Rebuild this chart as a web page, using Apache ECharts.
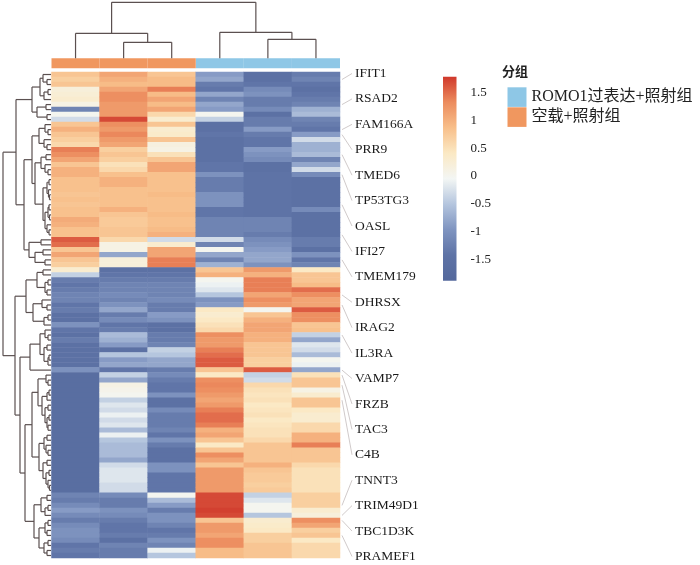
<!DOCTYPE html>
<html><head><meta charset="utf-8">
<script src="https://cdn.jsdelivr.net/npm/echarts@6/dist/echarts.min.js"></script>
<style>html,body{margin:0;padding:0;background:#fff}#c{width:700px;height:565px}</style>
</head><body><div id="c"></div>
<script>
// ---- data ----
const sampleNames = ['S1','S2','S3','S4','S5','S6'];
const sampleGroups = ['空载+照射组','空载+照射组','空载+照射组','ROMO1过表达+照射组','ROMO1过表达+照射组','ROMO1过表达+照射组'];
const groupNames = ['ROMO1过表达+照射组','空载+照射组'];
const groupColors = ['#8EC7E6','#F0975F'];

const empty1 = [0.8,0.7,0.8,0.2,0.25,0.3,0.1,-1.2,0.0,-0.3,
  0.8,1.0,0.8,0.7,0.6,1.4,1.3,1.1,0.8,1.0,
  1.0,0.85,0.85,0.85,0.8,0.85,0.8,0.85,0.85,1.05,
  1.0,0.85,0.85,1.6,1.5,0.8,1.1,0.8,0.7,
  0.3,-0.4,-1.3,-1.4,-1.3,-1.2,-1.2,-1.4,-1.3,-1.5,-1.5,
  -1.0,-1.4,-1.5,-1.3,-1.5,-1.5,-1.5,-1.5,-1.5,-1.0,
  -1.65,-1.65,-1.65,-1.65,-1.65,-1.65,-1.65,-1.65,-1.65,-1.65,-1.65,-1.65,
  -1.65,-1.65,-1.65,-1.65,-1.65,-1.65,-1.65,-1.65,-1.65,-1.65,-1.65,-1.65,
  -1.2,-1.3,-1.1,-0.9,-1.1,-1.3,-1.1,-1.0,-1.0,-1.1,-1.4,-1.3,-1.4];
const empty2 = [1.1,1.0,0.9,1.1,1.3,1.3,1.2,1.2,1.2,1.7,
  1.3,1.2,1.35,1.2,1.1,0.7,0.8,0.7,0.5,0.6,
  0.85,1.0,1.0,0.85,0.85,0.85,0.85,1.0,0.8,0.75,
  0.75,0.8,0.8,0.6,0.1,0.1,-0.8,0.2,0.2,
  -1.5,-1.4,-1.3,-1.2,-1.2,-1.1,-1.2,-1.0,-0.8,-1.3,-1.1,
  -1.4,-1.3,-0.6,-0.7,-0.9,-1.5,-0.5,-0.9,-0.8,-1.4,
  -0.4,-0.8,0.1,0.05,0.0,-0.4,-0.2,-0.3,-0.1,-0.3,-0.2,-0.6,
  -0.1,-0.5,-0.6,-0.6,-0.6,-0.8,-0.3,-0.2,-0.2,-0.2,-0.3,-0.3,
  -1.1,-1.3,-1.3,-1.0,-1.1,-1.3,-1.4,-1.4,-1.3,-1.5,-1.2,-1.3,-1.3];
const empty3 = [0.8,0.9,0.9,1.4,0.9,1.1,0.9,1.1,0.6,0.3,
  0.8,0.3,0.35,0.8,0.15,0.1,0.5,0.8,1.1,1.1,
  0.85,0.85,0.85,0.85,0.9,0.85,0.85,0.85,0.9,0.85,
  0.85,0.9,1.0,-0.3,0.3,1.1,1.1,1.4,1.4,
  -1.5,-1.4,-1.3,-1.2,-1.2,-1.2,-1.1,-1.3,-1.3,-0.9,-1.0,
  -1.5,-1.5,-1.3,-1.3,-1.2,-0.4,-0.5,-0.8,-0.8,-1.3,
  -1.1,-1.3,-1.4,-1.4,-1.0,-1.5,-1.5,-1.1,-1.3,-1.3,-1.3,-1.2,
  -1.4,-1.0,-1.3,-1.5,-1.5,-1.5,-1.0,-1.0,-1.4,-1.4,-1.4,-1.4,
  0.0,-0.6,-0.9,-1.3,-1.0,-1.0,-1.2,-1.4,-1.3,-1.0,-1.2,-0.1,-0.5];
const romo1 = [-0.9,-0.8,-1.3,-1.4,-0.8,-1.2,-0.8,-0.9,0.0,-0.4,
  -1.5,-1.5,-1.4,-1.5,-1.5,-1.5,-1.5,-1.5,-1.4,-1.4,
  -1.0,-1.3,-1.3,-1.3,-1.0,-1.0,-1.0,-1.4,-1.4,-1.2,
  -1.2,-1.2,-1.2,-0.3,-1.2,0.0,-0.8,-1.2,-0.7,
  0.8,1.0,0.0,-0.1,-0.2,-0.5,-1.0,-0.9,0.4,0.3,0.4,
  0.5,0.6,1.3,1.2,1.2,1.4,1.5,1.6,1.6,0.8,
  0.4,1.3,1.35,1.3,1.2,1.1,1.2,1.4,1.5,1.5,1.4,1.0,
  1.1,0.8,0.4,0.8,1.3,1.1,0.8,1.2,1.2,1.2,1.2,1.2,
  1.7,1.7,1.7,1.75,1.7,0.8,1.2,1.2,1.1,1.3,1.3,0.9,0.9];
const romo2 = [-1.5,-1.5,-1.4,-1.1,-1.0,-1.3,-1.3,-1.1,-1.5,-1.3,
  -1.3,-0.9,-1.3,-1.4,-1.4,-0.9,-1.0,-1.1,-1.5,-1.5,
  -1.45,-1.45,-1.45,-1.45,-1.45,-1.45,-1.45,-1.45,-1.45,-1.2,
  -1.2,-1.2,-1.3,-1.1,-1.0,-0.9,-0.8,-0.8,-1.0,
  1.2,1.0,1.4,1.4,1.4,1.1,1.3,1.2,0.0,0.8,1.0,
  1.1,1.1,1.0,1.0,0.8,0.8,0.8,0.7,0.7,1.6,
  -0.4,-0.3,0.6,0.5,0.45,0.5,0.4,0.45,0.5,0.4,0.45,0.5,
  0.5,0.6,0.8,0.8,0.8,0.8,1.0,0.8,0.75,0.75,0.7,0.75,
  -0.4,-0.2,0.0,0.0,-0.5,0.3,0.35,0.4,0.7,0.7,0.8,0.8,0.8];
const romo3 = [-1.3,-1.2,-1.4,-1.5,-1.4,-1.3,-1.2,-0.7,-0.6,-1.2,
  -1.3,-1.4,-0.9,-0.3,-0.7,-0.7,-0.6,-1.2,-0.8,-0.3,
  -1.1,-1.5,-1.5,-1.5,-1.5,-1.5,-1.5,-1.1,-1.5,-1.5,
  -1.5,-1.5,-1.5,-1.3,-1.3,-1.5,-1.0,-1.4,-1.2,
  0.4,0.8,0.8,0.9,1.5,1.3,1.1,1.1,1.6,1.3,1.3,
  0.8,0.85,-0.4,-0.8,-0.2,-0.3,-0.6,0.0,-0.1,-0.8,
  0.5,0.8,0.8,0.1,0.3,0.8,0.8,0.4,0.3,0.3,0.6,0.6,
  1.0,1.0,1.4,0.8,0.8,0.8,0.6,0.5,0.5,0.5,0.5,0.5,
  0.7,0.7,0.7,0.3,0.2,1.3,1.1,0.7,0.8,0.4,0.6,0.6,0.6];

const labelRows  = [1,6,11,12,16,20,26,32,37,44,46,52,59,60,62,65,86,88,89,92];
const labelNames = ['IFIT1','RSAD2','FAM166A','PRR9','TMED6','TP53TG3','OASL','IFI27','TMEM179','DHRSX',
  'IRAG2','IL3RA','VAMP7','FRZB','TAC3','C4B','TNNT3','TRIM49D1','TBC1D3K','PRAMEF1'];

// dendrograms: [height, left, right], leaves = index
const colTree = [56, [25, 0, [16, 1, 2]], [26, 3, [19, 4, 5]]];
const rowTree = [48,
  [35,
    [19, [11, [8, 0, [4,1,2]], [7, [3,3,4], 5]], [14, [5,6,7], [4,8,9]]],
    [27,
      [19,
        [12, [6, 10, [3,11,12]], [7, 13, [4,14,15]]],
        [16, [10, [5,16,17], [6,18,[3,19,20]]],
             [8, [4, [2,21,22], [2.5,23,[1.5,24,25]]], [6, [3,[2,26,27],[1.5,28,29]], [4,30,[2,31,32]]]]]
      ],
      [22, [10,33,34], [16,[8,35,36],[6,37,38]]]
    ]
  ],
  [36,
    [25, [14, [8,39,40], [6,[3,41,42],[4,43,44]]], [18, [9,45,[4,46,47]], [7,[3,48,49],50]]],
    [31,
      [21, [11, [6,51,[3,52,53]], [7,[4,54,55],[3,[2,56,57],58]]], 59],
      [26,
        [19,
          [13, [5,60,[3,61,62]], [9,[4,[2,63,64],65],[6,[3,66,67],[4,[2,68,69],[3,70,71]]]]],
          [12, [7,[4,72,73],[5,74,[3,75,76]]], [8,[4,77,78],[5,[2,79,80],[3,81,[1.5,82,83]]]]]
        ],
        [17, [10,[4,84,85],[6,[3,86,87],88]], [12,[6,[3,89,90],[4,91,92]],[7,[3,93,94],[4,95,96]]]]
      ]
    ]
  ]
];

const colorMin = -1.89, colorMax = 1.79;
const palette = ['#54689c','#5e73a6','#7f94c0','#b4c5de','#f3f6f4','#fbe9c4','#f8bf8a','#ec8c5e','#d0392c'];

// ---- build ----
const columns = [empty1, empty2, empty3, romo1, romo2, romo3];
const nRows = empty1.length;
const heatData = [];
columns.forEach((col, c) => col.forEach((v, r) => heatData.push([c, r, v])));

function dendro(node, out) {
  if (typeof node === 'number') return {pos: node + 0.5, h: 0};
  const [h, a, b] = node;
  const A = dendro(a, out), B = dendro(b, out);
  out.push([A.pos, A.h, A.pos, h], [B.pos, B.h, B.pos, h], [A.pos, h, B.pos, h]);
  return {pos: (A.pos + B.pos) / 2, h};
}
const colSegs = []; dendro(colTree, colSegs);
const rowSegsRaw = []; dendro(rowTree, rowSegsRaw);
const rowSegs = rowSegsRaw.map(s => [s[1], s[0], s[3], s[2]]);

const LINE = '#5b5050';
function segRender(params, api) {
  const a = api.coord([api.value(0), api.value(1)]);
  const b = api.coord([api.value(2), api.value(3)]);
  return {type: 'line', shape: {x1: a[0], y1: a[1], x2: b[0], y2: b[1]}, style: {stroke: LINE, lineWidth: 1.2}};
}

const labelTop = 73.5, labelStep = 25.42;
const rowCats = Array.from({length: nRows}, (_, i) => String(i));

const hm = {left: 51.5, top: 72, width: 288.5, height: 486};
const option = {
  backgroundColor: '#fff',
  animation: false,
  title: {text: '分组', left: 502, top: 65, padding: 0,
    textStyle: {fontSize: 13, fontWeight: 'bold', color: '#222', fontFamily: '"Noto Sans CJK SC", sans-serif'}},
  legend: {
    orient: 'vertical', left: 507.5, top: 87.3, padding: 0, itemWidth: 19, itemHeight: 19.6, itemGap: 0.4,
    icon: 'rect', selectedMode: false, data: groupNames,
    textStyle: {fontSize: 16, color: '#222', fontFamily: '"Liberation Serif", "Noto Sans CJK SC", serif'}
  },
  grid: [
    {left: hm.left, top: hm.top, width: hm.width, height: hm.height},
    {left: hm.left, top: 58.3, width: hm.width, height: 10},
    {left: hm.left, top: 2, width: hm.width, height: 56.3},
    {left: 2.5, top: hm.top, width: 48.5, height: hm.height},
    {left: 443, top: 65.2, width: 13.5, height: 221.6}
  ],
  xAxis: [
    {type: 'category', gridIndex: 0, data: sampleNames, show: false},
    {type: 'category', gridIndex: 1, data: sampleNames, show: false},
    {type: 'value', gridIndex: 2, min: 0, max: 6, show: false},
    {type: 'value', gridIndex: 3, min: 0, max: 48.5, inverse: true, show: false},
    {type: 'value', gridIndex: 4, min: 0, max: 1, show: false}
  ],
  yAxis: [
    {type: 'category', gridIndex: 0, data: rowCats, inverse: true, show: false},
    {type: 'category', gridIndex: 1, data: ['g'], show: false},
    {type: 'value', gridIndex: 2, min: 0, max: 56.3, show: false},
    {type: 'value', gridIndex: 3, min: 0, max: nRows, inverse: true, show: false},
    {type: 'value', gridIndex: 4, min: -2, max: 2, interval: 0.5, position: 'right',
      axisLine: {show: false}, axisTick: {show: false}, splitLine: {show: false},
      axisLabel: {show: true, margin: 14, fontSize: 13, color: '#222', fontFamily: '"Liberation Serif", serif',
        showMinLabel: false, showMaxLabel: false}}
  ],
  visualMap: {type: 'continuous', min: colorMin, max: colorMax, show: false, seriesIndex: 0,
    inRange: {color: palette}},
  series: [
    {type: 'heatmap', xAxisIndex: 0, yAxisIndex: 0, data: heatData, emphasis: {disabled: true}, progressive: 0},
    ...groupNames.map((g, gi) => ({
      type: 'custom', name: g, xAxisIndex: 1, yAxisIndex: 1,
      itemStyle: {color: groupColors[gi]},
      data: sampleGroups.map((sg, i) => sg === g ? [i, 0] : null).filter(d => d),
      renderItem: (params, api) => {
        const p = api.coord([api.value(0), 0]);
        const s = api.size([1, 1]);
        return {type: 'rect', shape: {x: p[0] - s[0] / 2, y: p[1] - s[1] / 2, width: s[0], height: s[1]},
          style: {fill: groupColors[gi]}};
      }
    })),
    {type: 'custom', xAxisIndex: 2, yAxisIndex: 2, data: colSegs, renderItem: segRender, clip: false, silent: true},
    {type: 'custom', xAxisIndex: 3, yAxisIndex: 3, data: rowSegs, renderItem: segRender, clip: false, silent: true},
    {type: 'custom', xAxisIndex: 4, yAxisIndex: 4, data: [[0, colorMin, 1, colorMax]], clip: false, silent: true,
      renderItem: (params, api) => {
        const a = api.coord([api.value(0), api.value(3)]);
        const b = api.coord([api.value(2), api.value(1)]);
        const stops = palette.slice().reverse().map((c, i) => ({offset: i / (palette.length - 1), color: c}));
        return {type: 'rect', shape: {x: a[0], y: a[1], width: b[0] - a[0], height: b[1] - a[1]},
          style: {fill: new echarts.graphic.LinearGradient(0, 0, 0, 1, stops)}};
      }},
    {type: 'custom', xAxisIndex: 0, yAxisIndex: 0, clip: false, silent: true,
      data: labelRows.map((r, k) => [5, r, k]),
      renderItem: (params, api) => {
        const p = api.coord([api.value(0), api.value(1)]);
        const cw = api.size([1, 1])[0];
        const xr = p[0] + cw / 2;
        const k = api.value(2);
        const ly = labelTop + k * labelStep;
        return {type: 'group', children: [
          {type: 'line', shape: {x1: xr + 2, y1: p[1], x2: xr + 12, y2: ly}, style: {stroke: '#cbc4c4', lineWidth: 0.9}},
          {type: 'text', style: {x: xr + 15, y: ly, text: labelNames[k], fill: '#1a1a1a',
            font: '13.5px "Liberation Serif", serif', textVerticalAlign: 'middle', verticalAlign: 'middle'}}
        ]};
      }}
  ]
};
const chart = echarts.init(document.getElementById('c'), null, {renderer: 'canvas'});
chart.setOption(option);
</script>
</body></html>
